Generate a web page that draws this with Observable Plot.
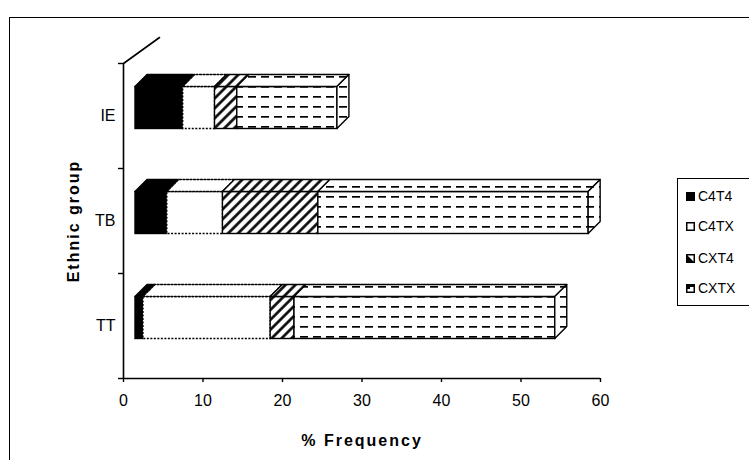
<!DOCTYPE html>
<html><head><meta charset="utf-8">
<script src="https://cdn.jsdelivr.net/npm/d3@7"></script>
<script src="https://cdn.jsdelivr.net/npm/@observablehq/plot@0.6"></script>
<style>
body{margin:0;background:#fff;font-family:"Liberation Sans",Arial,sans-serif;}
#wrap{position:relative;width:749px;height:460px;overflow:hidden;background:#fff;}
#wrap > svg{position:absolute;left:0;top:0;}
#frame{position:absolute;left:9px;top:17px;width:800px;height:500px;border-left:1.5px solid #000;border-top:1.5px solid #000;pointer-events:none;}
#legend{position:absolute;left:677px;top:178px;width:100px;height:126px;border:1px solid #000;background:#fff;}
#legend .item{position:absolute;left:8px;height:16px;display:flex;align-items:center;font-size:14px;color:#000;}
#legend .item svg{position:static;margin-right:3px;}
</style></head><body><div id="wrap"><div id="frame"></div><div id="legend"></div></div>
<script>
const groups = ["IE", "TB", "TT"];
const genotypes = ["C4T4", "C4TX", "CXT4", "CXTX"];
const valuesIE = [6.0, 4.0, 2.8, 12.6];
const valuesTB = [4.0, 7.0, 12.0, 34.0];
const valuesTT = [1.0, 16.0, 3.0, 32.8];
const xTicks = [0, 10, 20, 30, 40, 50, 60];
const xLabel = "% Frequency";
const yLabel = "Ethnic group";

const W = 749, H = 460, mL = 123, mR = 149, mT = 63, mB = 82;
const xMax = 60, nBands = groups.length;
const kx = (W - mL - mR) / xMax, ky = (H - mT - mB) / nBands;
const DEPTH = 12, SHIFTX = 12, SHIFTY = -8;
const ux = DEPTH / kx, uy = DEPTH / ky;
const WALL_DX = 36, WALL_DY = 26;

const table = [valuesIE, valuesTB, valuesTT];
const rows = [];
groups.forEach((g, i) => {
  let c = 0;
  const b = nBands - 1 - i;
  table[i].forEach((v, j) => {
    rows.push({g, k: genotypes[j], b, x1: c, x2: c + v, last: j === genotypes.length - 1});
    c += v;
  });
});

const fills = {C4T4: "#000", C4TX: "#fff", CXT4: "url(#hatch)", CXTX: "url(#dash)"};
const dashes = {C4TX: "2,1.5"};

const marks = [];
genotypes.forEach(k => {
  const sel = rows.filter(r => r.k === k);
  const top = sel.flatMap(r => [
    {id: r.g, y: r.b + 0.7, x1: r.x1, x2: r.x2},
    {id: r.g, y: r.b + 0.7 + uy, x1: r.x1 + ux, x2: r.x2 + ux}
  ]);
  marks.push(Plot.rect(sel, {x1: "x1", x2: "x2", y1: r => r.b + 0.3, y2: r => r.b + 0.7,
    fill: fills[k], stroke: "#000", strokeWidth: 1.4, strokeDasharray: dashes[k], dx: SHIFTX, dy: SHIFTY}));
  marks.push(Plot.areaX(top, {y: "y", x1: "x1", x2: "x2", z: "id", curve: "linear",
    fill: fills[k], stroke: "#000", strokeWidth: 1.4, strokeDasharray: dashes[k], dx: SHIFTX, dy: SHIFTY}));
});
const side = rows.filter(r => r.last).flatMap(r => [
  {id: r.g, x: r.x2, y1: r.b + 0.3, y2: r.b + 0.7},
  {id: r.g, x: r.x2 + ux, y1: r.b + 0.3 + uy, y2: r.b + 0.7 + uy}
]);
marks.push(Plot.areaY(side, {x: "x", y1: "y1", y2: "y2", z: "id", curve: "linear",
  fill: fills.CXTX, stroke: "#000", strokeWidth: 1.4, dx: SHIFTX, dy: SHIFTY}));

const wall = [{x: 0, y: nBands}, {x: WALL_DX / kx, y: nBands + WALL_DY / ky}];

const svg = Plot.plot({
  width: W, height: H,
  marginLeft: mL, marginRight: mR, marginTop: mT, marginBottom: mB,
  style: {fontSize: "16px", fontFamily: "'Liberation Sans', Arial, sans-serif", color: "#000", background: "transparent", overflow: "visible"},
  x: {domain: [0, xMax]},
  y: {domain: [0, nBands]},
  marks: [
    Plot.ruleY([0], {stroke: "#000", strokeWidth: 1.6}),
    Plot.ruleX([0], {stroke: "#000", strokeWidth: 1.6}),
    Plot.line(wall, {x: "x", y: "y", stroke: "#000", strokeWidth: 1.6}),
    Plot.axisX({ticks: xTicks, tickSize: 4, tickPadding: 12, label: null, fontSize: 16, stroke: "#000", strokeWidth: 1.4}),
    Plot.axisY({ticks: d3.range(nBands + 1), tickSize: 5, tickFormat: () => "", label: null, stroke: "#000", strokeWidth: 1.4}),
    Plot.text(groups, {x: 0, y: (d, i) => nBands - 1 - i + 0.5, text: d => d, textAnchor: "end", dx: -8, fontSize: 16}),
    ...marks,
    Plot.text([xLabel], {frameAnchor: "bottom", textAnchor: "middle", lineAnchor: "middle", dy: 62, fontWeight: "bold", fontSize: 16}),
    Plot.text([yLabel], {frameAnchor: "left", textAnchor: "middle", lineAnchor: "middle", rotate: -90, dx: -50, fontWeight: "bold", fontSize: 16})
  ]
});

d3.select(svg).selectAll("text")
  .filter(function() { return this.textContent === xLabel || this.textContent === yLabel; })
  .attr("letter-spacing", 2);

const defs = d3.select(svg).insert("defs", ":first-child");
const hatch = defs.append("pattern").attr("id", "hatch").attr("patternUnits", "userSpaceOnUse")
  .attr("width", 7).attr("height", 7).attr("patternTransform", "rotate(45)");
hatch.append("rect").attr("width", 7).attr("height", 7).attr("fill", "#fff");
hatch.append("line").attr("x1", 1.5).attr("y1", 0).attr("x2", 1.5).attr("y2", 7).attr("stroke", "#000").attr("stroke-width", 2.6);
const dash = defs.append("pattern").attr("id", "dash").attr("patternUnits", "userSpaceOnUse")
  .attr("width", 13).attr("height", 10);
dash.append("rect").attr("width", 13).attr("height", 10).attr("fill", "#fff");
dash.append("rect").attr("x", 2).attr("y", 4).attr("width", 8).attr("height", 1.7).attr("fill", "#000");

const wrap = document.getElementById("wrap");
wrap.insertBefore(svg, wrap.firstChild);

const swatches = {
  C4T4: '<rect x="0.5" y="0.5" width="8" height="8" fill="#000" stroke="#000"/>',
  C4TX: '<rect x="0.75" y="0.75" width="7.5" height="7.5" fill="#fff" stroke="#000" stroke-width="1.5"/>',
  CXT4: '<rect x="0.75" y="0.75" width="7.5" height="7.5" fill="#fff" stroke="#000" stroke-width="1.5"/><polygon points="0.5,0.5 0.5,8.5 8.5,8.5" fill="#000"/>',
  CXTX: '<rect x="0.75" y="0.75" width="7.5" height="7.5" fill="#fff" stroke="#000" stroke-width="1.5"/><path d="M0.5,0.5H8.5V3H4V5H0.5Z" fill="#000"/>'
};
const legend = document.getElementById("legend");
const itemY = [9, 39, 71, 101];
genotypes.forEach((k, i) => {
  const d = document.createElement("div");
  d.className = "item";
  d.style.top = itemY[i] + "px";
  d.innerHTML = `<svg width="9" height="9">${swatches[k]}</svg><span>${k}</span>`;
  legend.appendChild(d);
});
</script></body></html>
